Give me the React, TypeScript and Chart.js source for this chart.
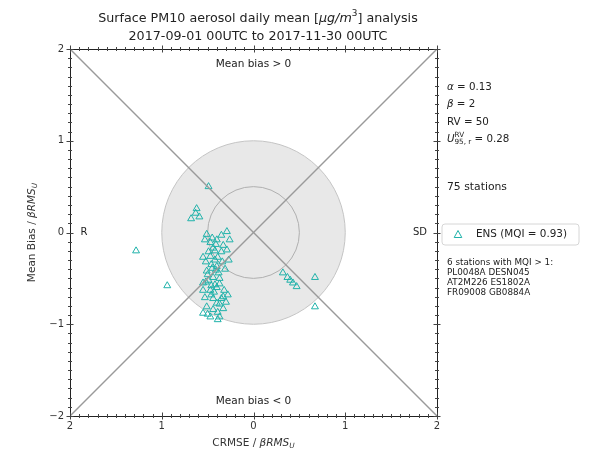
import React, { useEffect, useRef } from "react";
import { Chart, registerables } from "chart.js";
Chart.register(...registerables);

// ---------- data ----------
const ensX = [
  -0.29, -0.35, -0.51, -0.53, -0.40, -0.33, -0.29, -0.44, -0.47, -0.55,
  -0.47, -0.39, -0.42, -0.35, -0.40, -0.46, -0.51, -0.41, -0.44, -0.50,
  -0.55, -0.52, -0.42, -0.37, -0.47, -0.40, -0.55, -0.46, -0.33, -0.28,
  -0.30, -0.40, -0.37, -0.51, -0.44, -0.33, -0.55, -0.50, -0.39, -0.47,
  -0.37, -0.39, -0.42, -0.34, -0.45, -0.38, -0.49, -0.44, -0.53, -0.32,
  -0.26, -0.45, -0.37, -0.52, -0.27, -0.43, -0.35, -0.41, -0.49, -0.31,
  -0.46,
  -0.49, -1.28, -0.94, -0.63, -0.68, -0.59, -0.62,
  0.32, 0.37, 0.40, 0.43, 0.47, 0.67, 0.67,
];
const ensY = [
  0.01, -0.03, -0.02, -0.08, -0.08, -0.14, -0.19, -0.17, -0.11, -0.27,
  -0.26, -0.27, -0.20, -0.21, -0.37, -0.35, -0.42, -0.41, -0.49, -0.46,
  -0.55, -0.54, -0.57, -0.56, -0.63, -0.60, -0.63, -0.68, -0.70, -0.68,
  -0.76, -0.77, -0.78, -0.81, -0.84, -0.83, -0.88, -0.89, -0.87, -0.92,
  -0.92, -0.95, -0.30, -0.32, -0.39, -0.44, -0.52, -0.72, -0.71, -0.63,
  -0.08, -0.06, -0.50, -0.32, -0.30, -0.65, -0.72, -0.13, -0.21, -0.40,
  -0.58,
  0.50, -0.20, -0.58, 0.21, 0.15, 0.17, 0.26,
  -0.44, -0.49, -0.52, -0.55, -0.59, -0.49, -0.81,
];
const axisTicks = [-2, -1, 0, 1, 2];
const diagonalA = [{ x: -2, y: -2 }, { x: 2, y: 2 }];
const diagonalB = [{ x: -2, y: 2 }, { x: 2, y: -2 }];
const targetRadii = [1, 0.5];
const paramLines = [
  [{ t: "α", it: true }, { t: " = 0.13" }],
  [{ t: "β", it: true }, { t: " = 2" }],
  [{ t: "RV = 50" }],
];
const uLabel = "0.28";
const stationCount = "75 stations";
const legendLabel = "ENS (MQI = 0.93)";
const mqiLines = ["6 stations with MQI > 1:", "PL0048A DESN045", "AT2M226 ES1802A", "FR09008 GB0884A"];
const topNote = "Mean bias > 0";
const bottomNote = "Mean bias < 0";

const FONT = '"DejaVu Sans", sans-serif';
const TEAL = "#20b2aa";

type Part = { t?: string; it?: boolean; sub?: boolean; sup?: boolean; stackSup?: string; stackSub?: string };

function drawRich(ctx: CanvasRenderingContext2D, parts: Part[], x: number, y: number, size: number, align: "left" | "center" | "right", color = "#222") {
  ctx.save();
  ctx.textBaseline = "middle";
  ctx.textAlign = "left";
  ctx.fillStyle = color;
  const small = size * 0.7;
  const items = parts.map((p) => {
    if (p.stackSup !== undefined) {
      ctx.font = `${small}px ${FONT}`;
      const w1 = ctx.measureText(p.stackSup || "").width;
      const w2 = ctx.measureText(p.stackSub || "").width;
      return { p, w: Math.max(w1, w2) };
    }
    const fs = p.sub || p.sup ? small : size;
    ctx.font = `${p.it ? "italic " : ""}${fs}px ${FONT}`;
    return { p, w: ctx.measureText(p.t || "").width };
  });
  const total = items.reduce((a, b) => a + b.w, 0);
  let cx = align === "center" ? x - total / 2 : align === "right" ? x - total : x;
  for (const { p, w } of items) {
    if (p.stackSup !== undefined) {
      ctx.font = `${small}px ${FONT}`;
      ctx.fillText(p.stackSup || "", cx, y - size * 0.4);
      ctx.fillText(p.stackSub || "", cx, y + size * 0.35);
    } else {
      const fs = p.sub || p.sup ? small : size;
      ctx.font = `${p.it ? "italic " : ""}${fs}px ${FONT}`;
      const dy = p.sub ? size * 0.3 : p.sup ? -size * 0.4 : 0;
      ctx.fillText(p.t || "", cx, y + dy);
    }
    cx += w;
  }
  ctx.restore();
}

const decorPlugin = {
  id: "decor",
  beforeDatasetsDraw(chart: any) {
    const { ctx, chartArea, scales } = chart;
    const xs = scales.x, ys = scales.y;
    const cx = xs.getPixelForValue(0), cy = ys.getPixelForValue(0);
    const unit = xs.getPixelForValue(1) - cx;
    ctx.save();
    ctx.beginPath();
    ctx.rect(chartArea.left, chartArea.top, chartArea.right - chartArea.left, chartArea.bottom - chartArea.top);
    ctx.clip();
    ctx.beginPath();
    ctx.arc(cx, cy, unit * targetRadii[0], 0, Math.PI * 2);
    ctx.fillStyle = "#e8e8e8";
    ctx.fill();
    ctx.strokeStyle = "#c4c4c4";
    ctx.lineWidth = 1;
    ctx.stroke();
    ctx.beginPath();
    ctx.arc(cx, cy, unit * targetRadii[1], 0, Math.PI * 2);
    ctx.strokeStyle = "#b0b0b0";
    ctx.stroke();
    ctx.restore();
  },
  afterDraw(chart: any) {
    const { ctx, chartArea, scales } = chart;
    const xs = scales.x, ys = scales.y;
    const { left, right, top, bottom } = chartArea;
    ctx.save();
    ctx.strokeStyle = "#222";
    ctx.lineWidth = 1;
    ctx.strokeRect(Math.round(left) + 0.5, Math.round(top) + 0.5, Math.round(right - left), Math.round(bottom - top));
    ctx.beginPath();
    for (let i = -20; i <= 20; i++) {
      const v = i / 10;
      const major = i % 10 === 0;
      const L = major ? 3.5 : 2;
      const px = Math.round(xs.getPixelForValue(v)) + 0.5;
      const py = Math.round(ys.getPixelForValue(v)) + 0.5;
      ctx.moveTo(px, bottom - L); ctx.lineTo(px, bottom + L);
      ctx.moveTo(px, top - L); ctx.lineTo(px, top + L);
      ctx.moveTo(left - L, py); ctx.lineTo(left + L, py);
      ctx.moveTo(right - L, py); ctx.lineTo(right + L, py);
    }
    ctx.strokeStyle = "#444";
    ctx.stroke();

    const cx = xs.getPixelForValue(0), cy = ys.getPixelForValue(0);
    // title
    drawRich(ctx, [{ t: "Surface PM10 aerosol daily mean [" }, { t: "μg/m", it: true }, { t: "3", sup: true }, { t: "] analysis" }], 258, 19, 12.7, "center");
    drawRich(ctx, [{ t: "2017-09-01 00UTC to 2017-11-30 00UTC" }], 258, 37, 12.7, "center");
    // in-plot notes
    drawRich(ctx, [{ t: topNote }], cx, 64, 10.5, "center");
    drawRich(ctx, [{ t: bottomNote }], cx, 401, 10.5, "center");
    drawRich(ctx, [{ t: "R" }], 84, cy, 10, "center");
    drawRich(ctx, [{ t: "SD" }], 420, cy, 10, "center");
    // axis titles
    drawRich(ctx, [{ t: "CRMSE / " }, { t: "β", it: true }, { t: "RMS", it: true }, { t: "U", it: true, sub: true }], cx, 443, 10.5, "center", "#333");
    ctx.save();
    ctx.translate(32, cy);
    ctx.rotate(-Math.PI / 2);
    drawRich(ctx, [{ t: "Mean Bias / " }, { t: "β", it: true }, { t: "RMS", it: true }, { t: "U", it: true, sub: true }], 0, 0, 10.5, "center", "#333");
    ctx.restore();
    // right panel
    const rx = 447;
    paramLines.forEach((ln, i) => drawRich(ctx, ln as Part[], rx, 87 + i * 17.5, 10.3, "left"));
    drawRich(ctx, [{ t: "U", it: true }, { stackSup: "RV", stackSub: "95, r" }, { t: " = " + uLabel }], rx, 139, 10.3, "left");
    drawRich(ctx, [{ t: stationCount }], rx, 187, 10.8, "left");
    // legend box
    const bx = 442, by = 224, bw = 137, bh = 21, r = 3;
    ctx.beginPath();
    ctx.moveTo(bx + r, by);
    ctx.arcTo(bx + bw, by, bx + bw, by + bh, r);
    ctx.arcTo(bx + bw, by + bh, bx, by + bh, r);
    ctx.arcTo(bx, by + bh, bx, by, r);
    ctx.arcTo(bx, by, bx + bw, by, r);
    ctx.closePath();
    ctx.fillStyle = "rgba(255,255,255,0.85)";
    ctx.fill();
    ctx.strokeStyle = "#d6d6d6";
    ctx.stroke();
    ctx.beginPath();
    const tx = 458, ty = 234.5, ts = 4;
    ctx.moveTo(tx, ty - ts);
    ctx.lineTo(tx + ts * 0.95, ty + ts * 0.75);
    ctx.lineTo(tx - ts * 0.95, ty + ts * 0.75);
    ctx.closePath();
    ctx.strokeStyle = TEAL;
    ctx.stroke();
    drawRich(ctx, [{ t: legendLabel }], 476, 234.5, 10.4, "left");
    mqiLines.forEach((t, i) => drawRich(ctx, [{ t }], rx, 263 + i * 10, 8.8, "left"));
    ctx.restore();
  },
};

export default function App() {
  const ref = useRef<HTMLCanvasElement | null>(null);
  useEffect(() => {
    if (!ref.current) return;
    const chart = new Chart(ref.current, {
      type: "scatter",
      data: {
        datasets: [
          {
            type: "line",
            data: diagonalA,
            borderColor: "#9a9a9a",
            borderWidth: 1.4,
            pointRadius: 0,
          } as any,
          {
            type: "line",
            data: diagonalB,
            borderColor: "#9a9a9a",
            borderWidth: 1.4,
            pointRadius: 0,
          } as any,
          {
            data: ensX.map((x, i) => ({ x, y: ensY[i] })),
            pointStyle: "triangle",
            pointRadius: 4,
            pointBackgroundColor: "rgba(0,0,0,0)",
            pointBorderColor: TEAL,
            pointBorderWidth: 1,
          },
        ],
      },
      options: {
        responsive: false,
        animation: false,
        devicePixelRatio: 1,
        layout: { padding: { left: 0, top: 49, right: 156, bottom: 0 } },
        plugins: { legend: { display: false }, tooltip: { enabled: false }, title: { display: false } },
        scales: {
          x: {
            type: "linear",
            min: -2,
            max: 2,
            afterBuildTicks: (s: any) => { s.ticks = axisTicks.map((v) => ({ value: v })); },
            afterFit: (s: any) => { s.height = 39; },
            grid: { display: false, drawTicks: false },
            border: { display: false },
            ticks: {
              padding: 4,
              color: "#333",
              font: { family: "DejaVu Sans", size: 10 },
              callback: (v: any) => String(Math.abs(Number(v))),
            },
          },
          y: {
            type: "linear",
            min: -2,
            max: 2,
            afterBuildTicks: (s: any) => { s.ticks = axisTicks.map((v) => ({ value: v })); },
            afterFit: (s: any) => { s.width = 70; },
            grid: { display: false, drawTicks: false },
            border: { display: false },
            ticks: {
              padding: 6,
              color: "#333",
              font: { family: "DejaVu Sans", size: 10 },
              callback: (v: any) => (Number(v) < 0 ? "\u2212" + Math.abs(Number(v)) : String(v)),
            },
          },
        },
      },
      plugins: [decorPlugin],
    });
    return () => chart.destroy();
  }, []);
  return (
    <div style={{ position: "fixed", left: 0, top: 0, width: 593, height: 455, background: "#fff" }}>
      <canvas ref={ref} width={593} height={455} style={{ width: 593, height: 455 }} />
    </div>
  );
}
